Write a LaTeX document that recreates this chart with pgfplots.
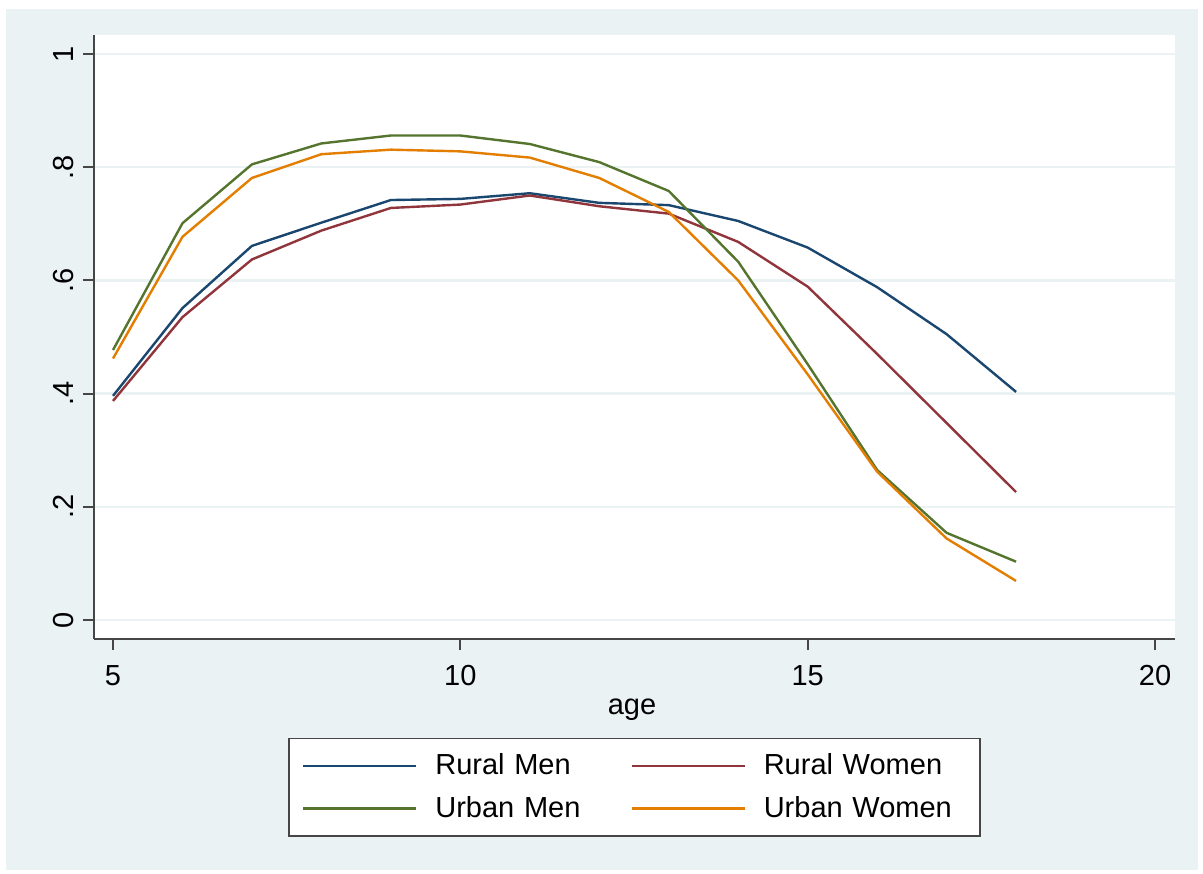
\documentclass[border=0pt]{standalone}
\usepackage{pgfplots}
\usepackage{pgfplotstable}
\pgfplotsset{compat=1.18}
\usepackage{fontspec}
\setmainfont{Liberation Sans}
\definecolor{bgc}{RGB}{234,242,243}
\definecolor{smnavy}{RGB}{26,71,111}
\definecolor{smmaroon}{RGB}{144,53,59}
\definecolor{smgreen}{RGB}{85,117,47}
\definecolor{smorange}{RGB}{227,126,0}
\definecolor{axc}{RGB}{70,70,70}
\newcommand{\fsz}{\fontsize{14.5bp}{17bp}\selectfont}

\pgfplotstableread{
age rm    rw    um    uw
5   0.396 0.387 0.477 0.462
6   0.551 0.535 0.701 0.677
7   0.661 0.637 0.805 0.781
8   0.702 0.688 0.842 0.823
9   0.742 0.728 0.856 0.831
10  0.744 0.734 0.856 0.828
11  0.754 0.750 0.841 0.817
12  0.737 0.731 0.809 0.781
13  0.733 0.718 0.758 0.721
14  0.705 0.668 0.633 0.600
15  0.658 0.589 0.452 0.434
16  0.588 0.470 0.265 0.262
17  0.505 0.348 0.154 0.144
18  0.403 0.226 0.103 0.069
}\datatable

\begin{document}
\begin{tikzpicture}
\fill[white] (0,0) rectangle (601.5bp,437bp);
\fill[bgc] (3bp,2bp) rectangle (599bp,432.5bp);
\begin{axis}[
  at={(47bp,117.5bp)}, anchor=south west,
  scale only axis, width=540.5bp, height=302bp,
  xmin=4.7265, xmax=20.288, ymin=-0.0336, ymax=1.0336,
  axis background/.style={fill=white},
  axis x line*=bottom, axis y line*=left,
  axis line style={-, draw=axc, line width=1bp},
  xtick={5,10,15,20}, xticklabels={5,10,15,20},
  ytick={0,0.2,0.4,0.6,0.8,1}, yticklabels={0,.2,.4,.6,.8,1},
  tick align=outside, major tick length=5.5bp,
  tick style={draw=axc, line width=1bp},
  ymajorgrids, major grid style={draw=bgc, line width=1.2bp},
  xticklabel style={font=\fsz, anchor=base, inner sep=0pt, yshift=-17.5bp},
  yticklabel style={font=\fsz, xshift=-4.5bp, rotate=90, anchor=base, inner sep=0pt},
  xlabel={age},
  xlabel style={font=\fsz, at={(axis description cs:0.4977,0)}, anchor=base, inner sep=0pt, yshift=-37.5bp},
  legend columns=2,
  legend cell align=left,
  legend style={
    font=\fsz,
    at={(axis description cs:0.18039,-0.32616)}, anchor=south west,
    draw=axc, line width=0.8bp, fill=white,
    inner xsep=8.5bp, inner ysep=7.7bp, outer sep=0pt,
    row sep=9.4bp, column sep=0pt,
    nodes={inner sep=0pt},
    /tikz/every even column/.append style={text width=99.5bp, align=left},
  },
  legend image code/.code={\draw[#1, overlay] (0bp,0bp) -- (56.5bp,0bp); \path (2bp,0bp) (65.5bp,0bp);},
  every axis plot/.append style={line width=1.2bp, mark=none},
]
\addplot[smnavy] table[x=age,y=rm] {\datatable};
\addlegendentry{Rural Men}
\addplot[smmaroon] table[x=age,y=rw] {\datatable};
\addlegendentry{Rural Women}
\addplot[smgreen] table[x=age,y=um] {\datatable};
\addlegendentry{Urban Men}
\addplot[smorange] table[x=age,y=uw] {\datatable};
\addlegendentry{Urban Women}
\end{axis}
\pgfresetboundingbox
\path[use as bounding box] (0,0) rectangle (601.5bp,437bp);
\end{tikzpicture}
\end{document}
